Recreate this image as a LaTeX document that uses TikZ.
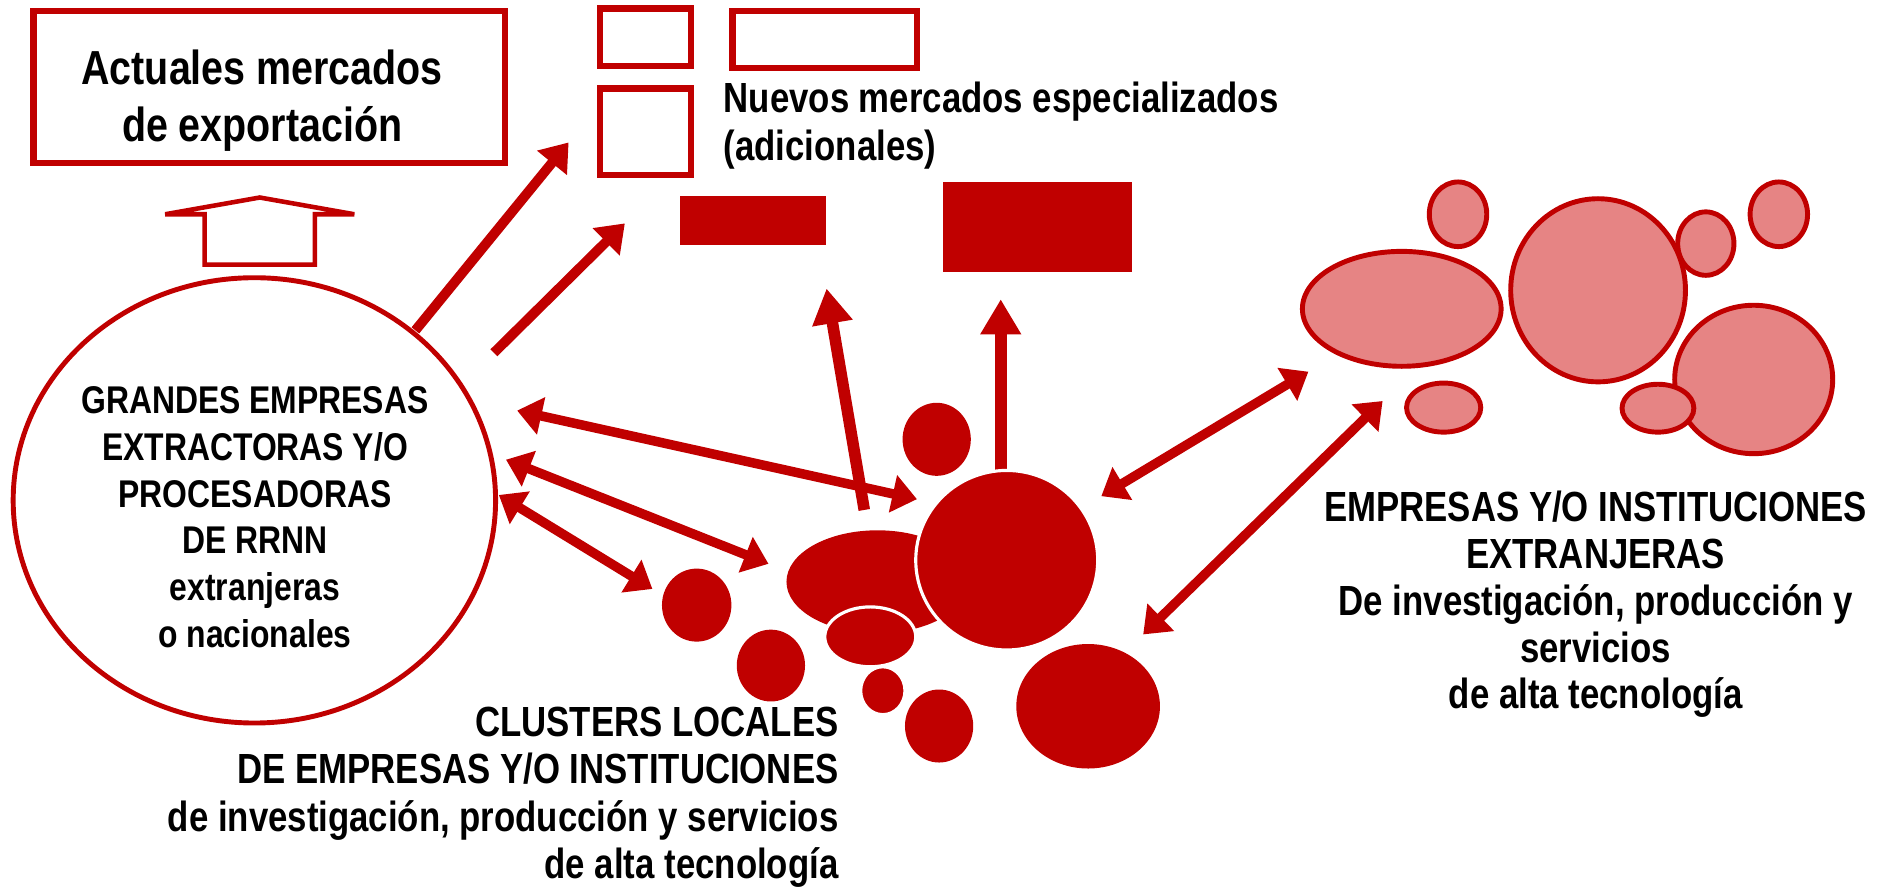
\documentclass[tikz,border=0pt]{standalone}
\usepackage{fontspec}
\setmainfont[FakeStretch=0.825]{Liberation Sans}
\usetikzlibrary{arrows.meta,shapes.geometric}
\definecolor{dred}{RGB}{192,0,0}
\definecolor{pinkfill}{RGB}{230,132,132}
\newcommand\upx{0.011971cm}
\tikzset{
  txt/.style={text=black, align=center, inner sep=0pt},
  obox/.style={draw=dred, line width=1.8pt},
  blob/.style={fill=dred, draw=white, line width=0.9pt},
  hblob/.style={fill=pinkfill, draw=dred, line width=1.4pt},
  arr/.style={draw=dred, line width=2.8pt, -{Triangle[length=7.5pt,width=10.5pt]}},
  darr/.style={draw=dred, line width=2.7pt, {Triangle[length=7pt,width=10.5pt]}-{Triangle[length=7pt,width=10.5pt]}},
  varr/.style={draw=dred, line width=3.3pt, -{Triangle[length=10pt,width=11pt]}}
}
\begin{document}
\begin{tikzpicture}[x=0.011971cm,y=-0.011971cm]
\useasboundingbox (0,0) rectangle (1568,743);

% top boxes
\node[obox, minimum width=394*\upx, minimum height=127*\upx, inner sep=0pt] (act) at (225,72.5) {};
\node[txt, font=\fontsize{13.6pt}{16.4pt}\selectfont\bfseries] (acttxt) at (219,84) {Actuales mercados\\de exportación};
\draw[obox] (501,7) rectangle (577,55);
\draw[obox] (612,9) rectangle (766,57);
\draw[obox] (501,74) rectangle (577,146);
\fill[dred] (568,164) rectangle (690,205);
\fill[dred] (788,152) rectangle (946,227);
\node[txt, anchor=west, align=left, font=\fontsize{12pt}{13.6pt}\selectfont\bfseries] (nuevos) at (604,105) {Nuevos mercados especializados\\(adicionales)};

% block arrow
\draw[dred, line width=1.3pt] (138,179) -- (217,165) -- (296,179) -- (263,179) -- (263,221) -- (171,221) -- (171,179) -- cycle;

% big ellipse
\node[draw=dred, line width=1.4pt, ellipse, minimum width=403*\upx, minimum height=372*\upx, inner sep=0pt] (big) at (212.5,418) {};
\node[txt, font=\fontsize{11pt}{13.3pt}\selectfont\bfseries] (bigtxt) at (213,432) {GRANDES EMPRESAS\\EXTRACTORAS Y/O\\PROCESADORAS\\DE RRNN\\extranjeras\\o nacionales};

% arrow coordinates
\coordinate (a1s) at (347,276); \coordinate (a1e) at (475,119);
\coordinate (a2s) at (412.6,294.7); \coordinate (a2e) at (522,186.6);
\coordinate (a3s) at (722,426); \coordinate (a3e) at (690.5,241);
\coordinate (a4s) at (836,394); \coordinate (a4e) at (836,250);
\coordinate (aAl) at (432,343); \coordinate (aAr) at (766,417);
\coordinate (aBl) at (422.7,384); \coordinate (aBr) at (642,471);
\coordinate (aCl) at (416.7,413.5); \coordinate (aCr) at (545,492);
\coordinate (aDl) at (920,414.5); \coordinate (aDr) at (1093,310.5);
\coordinate (aEl) at (955,530); \coordinate (aEr) at (1155,335);

\draw[arr] (a1s) -- (a1e);
\draw[arr] (a2s) -- (a2e);
\draw[darr] (aAl) -- (aAr);
\draw[darr] (aBl) -- (aBr);
\draw[darr] (aCl) -- (aCr);
\draw[varr] (a3s) -- (a3e);
\draw[varr] (a4s) -- (a4e);

% cluster blobs
\fill[dred] (782.5,367) ellipse [x radius=28.5*\upx, y radius=30.5*\upx];
\fill[dred] (582,505.5) ellipse [x radius=29*\upx, y radius=30.5*\upx];
\fill[dred] (644,556) ellipse [x radius=28.5*\upx, y radius=30*\upx];
\fill[dred] (784.5,606.5) ellipse [x radius=28.5*\upx, y radius=30.5*\upx];
\fill[dred] (909,590) ellipse [x radius=60*\upx, y radius=52*\upx];
\fill[dred] (733,486) ellipse [x radius=76*\upx, y radius=43*\upx];
\path[blob] (841,468) ellipse [x radius=76*\upx, y radius=75*\upx];
\path[blob] (727,532) ellipse [x radius=38*\upx, y radius=25*\upx];
\path[blob] (737.5,577) ellipse [x radius=18.5*\upx, y radius=20*\upx];

% foreign blobs
\path[hblob] (1218,179) ellipse [x radius=24*\upx, y radius=27*\upx];
\path[hblob] (1486,179) ellipse [x radius=24*\upx, y radius=27*\upx];
\path[hblob] (1171,258) ellipse [x radius=83*\upx, y radius=48*\upx];
\path[hblob] (1465,317) ellipse [x radius=66*\upx, y radius=62*\upx];
\path[hblob] (1335,242.5) ellipse [x radius=73*\upx, y radius=76.5*\upx];
\path[hblob] (1425,203.5) ellipse [x radius=23.5*\upx, y radius=26.5*\upx];
\path[hblob] (1206,340.5) ellipse [x radius=31*\upx, y radius=20.5*\upx];
\path[hblob] (1385,341) ellipse [x radius=30*\upx, y radius=20*\upx];

\draw[darr] (aDl) -- (aDr);
\draw[darr] (aEl) -- (aEr);

% texts
\node[txt, anchor=east, align=right, font=\fontsize{12pt}{13.5pt}\selectfont\bfseries] (clusters) at (701,666) {CLUSTERS LOCALES\\DE EMPRESAS Y/O INSTITUCIONES\\de investigación, producción y servicios\\de alta tecnología};
\node[txt, font=\fontsize{12pt}{13.3pt}\selectfont\bfseries] (extr) at (1333,505) {EMPRESAS Y/O INSTITUCIONES\\EXTRANJERAS\\De investigación, producción y\\servicios\\de alta tecnología};
\end{tikzpicture}
\end{document}
